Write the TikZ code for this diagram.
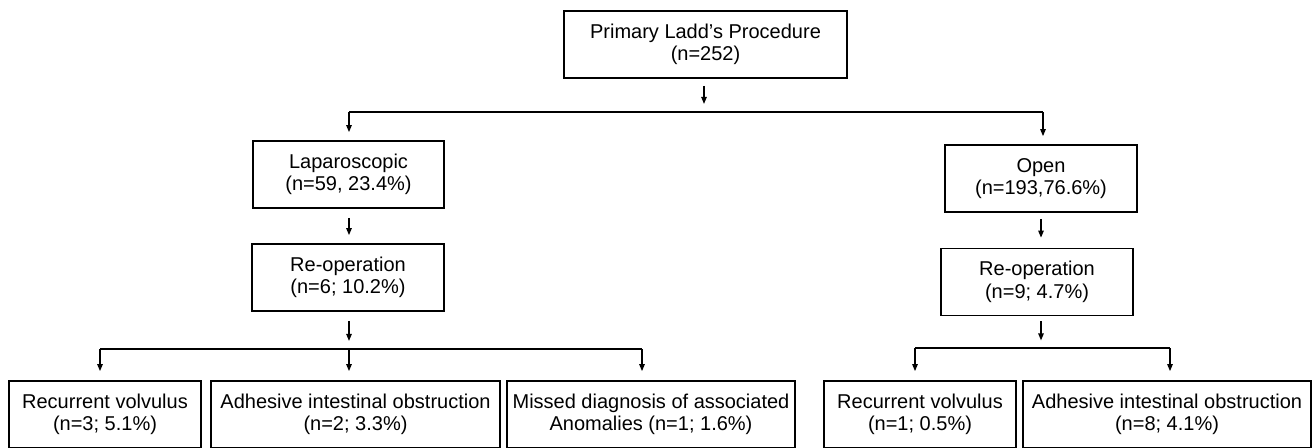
\documentclass[tikz,border=0pt]{standalone}
\usepackage{fontspec}
\setmainfont{Liberation Sans}
\usetikzlibrary{arrows.meta,calc}
\begin{document}
\begin{tikzpicture}[x=1pt,y=-1pt,
  box/.style={draw,line width=1.8pt,minimum height=67pt,inner sep=0pt,align=center,
    font=\fontsize{20}{22.5}\selectfont},
  conn/.style={line width=1.2pt},
  arr/.style={line width=1.2pt,-{Stealth[length=7pt,width=5.5pt,inset=0pt]}}]
\clip (0,0) rectangle (1314,447);
\fill[white] (0,0) rectangle (1314,447);
% boxes
\node[box,minimum width=283pt] (top) at (705.5,44.5) {Primary Ladd’s Procedure\\(n=252)};
\node[box,minimum width=191pt] (lap) at (348.5,174.5) {Laparoscopic\\(n=59, 23.4\%)};
\node[box,minimum width=192pt] (lapre) at (348,277.5) {Re-operation\\(n=6; 10.2\%)};
\node[box,minimum width=192pt] (open) at (1041,178.5) {Open\\(n=193,76.6\%)};
\node[box,minimum width=192pt] (openre) at (1037,282) {Re-operation\\(n=9; 4.7\%)};
\node[box,minimum width=192pt] (b1) at (105,414.5) {Recurrent volvulus\\(n=3; 5.1\%)};
\node[box,minimum width=289pt] (b2) at (355.5,414.5) {Adhesive intestinal obstruction\\(n=2; 3.3\%)};
\node[box,minimum width=288pt] (b3) at (651,414.5) {Missed diagnosis of associated\\Anomalies (n=1; 1.6\%)};
\node[box,minimum width=192pt] (b4) at (920,414.5) {Recurrent volvulus\\(n=1; 0.5\%)};
\node[box,minimum width=288pt] (b5) at (1167,414.5) {Adhesive intestinal obstruction\\(n=8; 4.1\%)};
% branch points
\coordinate (hL) at (349,112);
\coordinate (hR) at (1043,112);
\coordinate (l1) at (100,349);
\coordinate (l2) at (349,349);
\coordinate (l3) at (642,349);
\coordinate (r1) at (915,348);
\coordinate (r2) at (1170,348);
% connectors
\draw[arr] ($(top.south)+(-1.5,7)$) -- ($(top.south)+(-1.5,25)$);
\draw[conn] (hL) -- (hR);
\draw[arr] (hL) -- (hL |- {$(lap.north)+(0,-8)$});
\draw[arr] (hR) -- (hR |- {$(open.north)+(0,-8)$});
\draw[arr] ($(lap.south)+(0.5,9)$) -- ($(lap.south |- lapre.north)+(0.5,-8)$);
\draw[arr] ($(lapre.south)+(1,9)$) -- ($(lapre.south)+(1,29)$);
\draw[conn] (l1) -- (l3);
\draw[arr] (l1) -- (l1 |- {$(b1.north)+(0,-9)$});
\draw[arr] (l2) -- (l2 |- {$(b2.north)+(0,-9)$});
\draw[arr] (l3) -- (l3 |- {$(b3.north)+(0,-9)$});
\draw[arr] ($(open.south)+(0,6)$) -- ($(open.south |- openre.north)+(0,-10)$);
\draw[arr] ($(openre.south)+(4,5)$) -- ($(openre.south)+(4,24)$);
\draw[conn] (r1) -- (r2);
\draw[arr] (r1) -- (r1 |- {$(b4.north)+(0,-9)$});
\draw[arr] (r2) -- (r2 |- {$(b5.north)+(0,-9)$});
\end{tikzpicture}
\end{document}
